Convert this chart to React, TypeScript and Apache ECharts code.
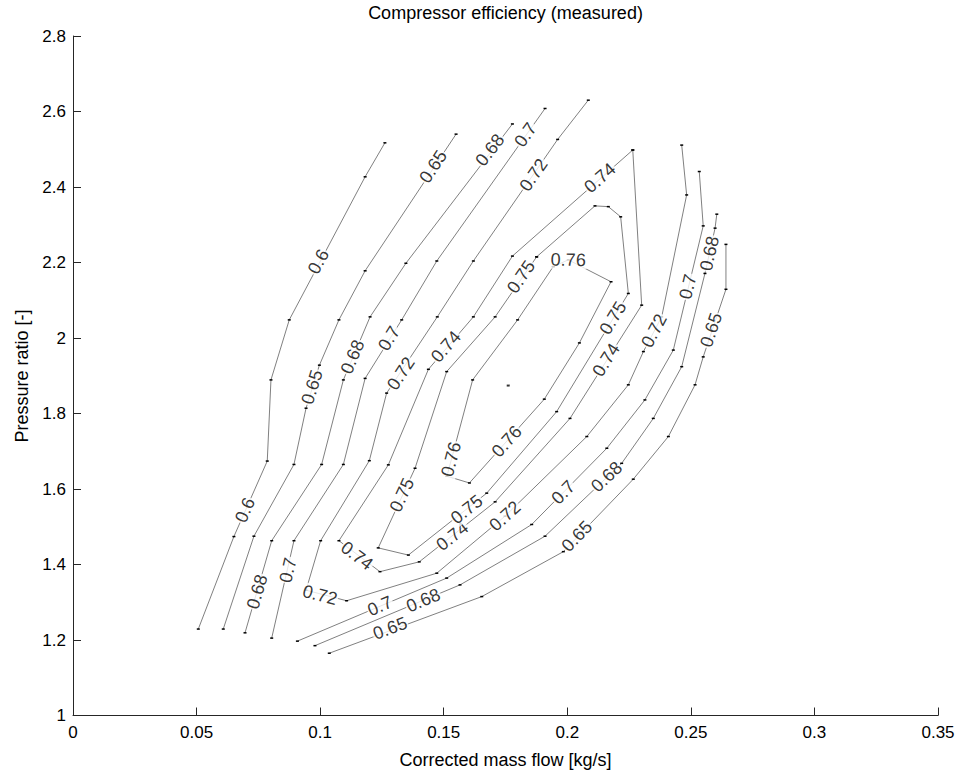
import React, { useEffect, useRef } from "react";
import * as echarts from "echarts";

const FONT = "'Liberation Sans', Arial, Helvetica, sans-serif";

// Axis extents and tick steps
const xMin = 0;
const xMax = 0.35;
const xStep = 0.05;
const yMin = 1;
const yMax = 2.8;
const yStep = 0.2;

// Iso-efficiency lines, points as [corrected mass flow kg/s, pressure ratio]
const eff060: number[][] = [[0.0507, 1.229], [0.0651, 1.474], [0.0786, 1.674], [0.0801, 1.889], [0.0875, 2.048], [0.1182, 2.427], [0.1262, 2.517]];
const eff065Left: number[][] = [[0.0608, 1.229], [0.0732, 1.475], [0.0894, 1.665], [0.0943, 1.814], [0.0997, 1.928], [0.1076, 2.048], [0.1182, 2.178], [0.155, 2.54]];
const eff065Right: number[][] = [[0.1037, 1.165], [0.1654, 1.315], [0.1984, 1.434], [0.2267, 1.626], [0.2409, 1.739], [0.2517, 1.876], [0.255, 1.95], [0.2642, 2.129], [0.2642, 2.248]];
const eff068Left: number[][] = [[0.0696, 1.219], [0.0804, 1.463], [0.1006, 1.665], [0.1094, 1.889], [0.1202, 2.056], [0.1347, 2.198], [0.1778, 2.567]];
const eff068Right: number[][] = [[0.0979, 1.185], [0.1566, 1.346], [0.191, 1.475], [0.222, 1.668], [0.2348, 1.787], [0.2463, 1.924], [0.2557, 2.171], [0.2598, 2.291], [0.2605, 2.328]];
const eff070Left: number[][] = [[0.0804, 1.205], [0.0894, 1.463], [0.1094, 1.665], [0.1182, 1.893], [0.133, 2.048], [0.1472, 2.204], [0.191, 2.608]];
const eff070Right: number[][] = [[0.0908, 1.197], [0.1512, 1.364], [0.1856, 1.506], [0.216, 1.708], [0.2314, 1.836], [0.2429, 1.968], [0.255, 2.297], [0.2534, 2.441]];
const eff072: number[][] = [[0.2085, 2.63], [0.1961, 2.526], [0.162, 2.204], [0.1474, 2.056], [0.1269, 1.854], [0.1199, 1.675], [0.1002, 1.463], [0.0943, 1.332], [0.1107, 1.304], [0.1472, 1.377], [0.1748, 1.528], [0.2079, 1.739], [0.2247, 1.876], [0.2308, 1.964], [0.2382, 2.056], [0.2483, 2.379], [0.2463, 2.511]];
const eff074: number[][] = [[0.2265, 2.498], [0.1778, 2.217], [0.162, 2.056], [0.1438, 1.917], [0.1276, 1.664], [0.1076, 1.463], [0.1242, 1.381], [0.1401, 1.407], [0.1708, 1.566], [0.2011, 1.787], [0.2301, 2.087], [0.2265, 2.498]];
const eff075: number[][] = [[0.1876, 2.215], [0.1708, 2.056], [0.1512, 1.911], [0.1384, 1.655], [0.1235, 1.444], [0.1357, 1.425], [0.1674, 1.589], [0.1957, 1.805], [0.2247, 2.118], [0.2216, 2.321], [0.2166, 2.348], [0.2112, 2.35], [0.1876, 2.215]];
const eff076: number[][] = [[0.1943, 2.189], [0.1799, 2.048], [0.1617, 1.889], [0.1513, 1.634], [0.1604, 1.616], [0.1907, 1.838], [0.2049, 1.987], [0.2177, 2.149], [0.2004, 2.207], [0.1943, 2.189]];

// Highest measured efficiency point
const peakPoint: number[][] = [[0.1761, 1.874]];

// Inline label anchors for each line
const lbl060: number[][] = [[0.0696, 1.544], [0.0993, 2.202]];
const lbl065Left: number[][] = [[0.0967, 1.87], [0.1457, 2.454]];
const lbl065Right: number[][] = [[0.1283, 1.231], [0.2039, 1.475], [0.2582, 2.021]];
const lbl068Left: number[][] = [[0.0745, 1.328], [0.1131, 1.95], [0.1687, 2.498]];
const lbl068Right: number[][] = [[0.1417, 1.305], [0.2159, 1.632], [0.2575, 2.224]];
const lbl070Left: number[][] = [[0.087, 1.385], [0.1279, 1.999], [0.1831, 2.538]];
const lbl070Right: number[][] = [[0.1242, 1.29], [0.1984, 1.591], [0.2488, 2.136]];
const lbl072: number[][] = [[0.0999, 1.319], [0.1327, 1.906], [0.1863, 2.432], [0.1748, 1.528], [0.2351, 2.019]];
const lbl074: number[][] = [[0.1149, 1.423], [0.1509, 1.977], [0.2132, 2.424], [0.1535, 1.475], [0.2157, 1.942]];
const lbl075: number[][] = [[0.1813, 2.162], [0.1331, 1.584], [0.1593, 1.546], [0.2185, 2.053]];
const lbl076: number[][] = [[0.153, 1.679], [0.1755, 1.726], [0.2004, 2.207]];

const contours = [
  { level: "0.6", points: eff060, labels: lbl060 },
  { level: "0.65", points: eff065Left, labels: lbl065Left },
  { level: "0.65", points: eff065Right, labels: lbl065Right },
  { level: "0.68", points: eff068Left, labels: lbl068Left },
  { level: "0.68", points: eff068Right, labels: lbl068Right },
  { level: "0.7", points: eff070Left, labels: lbl070Left },
  { level: "0.7", points: eff070Right, labels: lbl070Right },
  { level: "0.72", points: eff072, labels: lbl072 },
  { level: "0.74", points: eff074, labels: lbl074 },
  { level: "0.75", points: eff075, labels: lbl075 },
  { level: "0.76", points: eff076, labels: lbl076 },
];

// Text angle (degrees, kept upright) of a polyline around the point nearest q
function labelAngle(poly: number[][], q: number[]): number {
  const cum = [0];
  for (let i = 1; i < poly.length; i++) {
    cum.push(cum[i - 1] + Math.hypot(poly[i][0] - poly[i - 1][0], poly[i][1] - poly[i - 1][1]));
  }
  let best = Infinity;
  let bestS = 0;
  for (let i = 0; i < poly.length - 1; i++) {
    const a = poly[i];
    const b = poly[i + 1];
    const dx = b[0] - a[0];
    const dy = b[1] - a[1];
    const len2 = dx * dx + dy * dy || 1;
    let t = ((q[0] - a[0]) * dx + (q[1] - a[1]) * dy) / len2;
    t = Math.max(0, Math.min(1, t));
    const d = Math.hypot(q[0] - (a[0] + t * dx), q[1] - (a[1] + t * dy));
    if (d < best) {
      best = d;
      bestS = cum[i] + t * Math.sqrt(len2);
    }
  }
  const total = cum[cum.length - 1];
  const at = (s: number) => {
    s = Math.max(0, Math.min(total, s));
    for (let i = 0; i < poly.length - 1; i++) {
      if (s <= cum[i + 1] || i === poly.length - 2) {
        const seg = cum[i + 1] - cum[i] || 1;
        const t = (s - cum[i]) / seg;
        return [poly[i][0] + t * (poly[i + 1][0] - poly[i][0]), poly[i][1] + t * (poly[i + 1][1] - poly[i][1])];
      }
    }
    return poly[poly.length - 1];
  };
  const p1 = at(bestS - 14);
  const p2 = at(bestS + 14);
  let ang = (Math.atan2(-(p2[1] - p1[1]), p2[0] - p1[0]) * 180) / Math.PI;
  if (ang > 90) ang -= 180;
  if (ang < -90) ang += 180;
  return ang;
}

export default function App() {
  const ref = useRef<HTMLDivElement>(null);

  useEffect(() => {
    const el = ref.current;
    if (!el) return;
    const chart = echarts.init(el, null, { renderer: "svg" });

    const axisColor = "#262626";
    const tickText = { color: "#000", fontFamily: FONT, fontSize: 17 };
    const nameStyle = { fill: "#000", fontFamily: FONT, fontSize: 18, align: "center", verticalAlign: "middle" };

    const lineSeries = contours.map((c, i) => ({
      id: "iso" + i,
      type: "line",
      data: c.points,
      silent: true,
      showSymbol: true,
      showAllSymbol: true,
      symbol: "rect",
      symbolSize: [3, 1.5],
      itemStyle: { color: "#000" },
      lineStyle: { color: "#555", width: 0.75 },
      z: 2,
    }));

    const peakSeries = {
      id: "peak",
      type: "scatter",
      data: peakPoint,
      silent: true,
      symbol: "rect",
      symbolSize: [3, 2],
      itemStyle: { color: "#000" },
      z: 2,
    };

    chart.setOption({
      animation: false,
      grid: { left: 73, right: 22, top: 36, bottom: 57.5 },
      xAxis: {
        type: "value",
        min: xMin,
        max: xMax,
        interval: xStep,
        axisLine: { show: true, onZero: false, lineStyle: { color: axisColor, width: 1 } },
        axisTick: { show: true, inside: true, length: 8, lineStyle: { color: axisColor } },
        axisLabel: { ...tickText, margin: 8 },
        splitLine: { show: false },
      },
      yAxis: {
        type: "value",
        min: yMin,
        max: yMax,
        interval: yStep,
        axisLine: { show: true, onZero: false, lineStyle: { color: axisColor, width: 1 } },
        axisTick: { show: true, inside: true, length: 8, lineStyle: { color: axisColor } },
        axisLabel: { ...tickText, margin: 7 },
        splitLine: { show: false },
      },
      graphic: [
        { type: "text", x: 505.5, y: 13, style: { ...nameStyle, text: "Compressor efficiency (measured)" } },
        { type: "text", x: 505.5, y: 760, style: { ...nameStyle, text: "Corrected mass flow [kg/s]" } },
        { type: "text", x: 22, y: 376, rotation: Math.PI / 2, style: { ...nameStyle, text: "Pressure ratio [-]" } },
      ],
      series: [...lineSeries, peakSeries],
    });

    // Inline labels follow the direction of their line
    const toPx = (p: number[]) => chart.convertToPixel({ gridIndex: 0 }, p) as number[];
    const labelData: any[] = [];
    contours.forEach((c) => {
      const polyPx = c.points.map(toPx);
      c.labels.forEach((l) => {
        labelData.push({
          name: c.level,
          value: l,
          label: { rotate: labelAngle(polyPx, toPx(l)) },
        });
      });
    });

    chart.setOption({
      series: [
        ...lineSeries,
        peakSeries,
        {
          id: "levels",
          type: "scatter",
          data: labelData,
          silent: true,
          symbolSize: 1,
          itemStyle: { color: "transparent" },
          z: 5,
          label: {
            show: true,
            position: "inside",
            formatter: "{b}",
            color: "#000",
            fontFamily: FONT,
            fontSize: 18,
            lineHeight: 18,
            backgroundColor: "#fff",
            padding: [0, 1],
          },
          labelLayout: { hideOverlap: false },
        },
      ],
    });

    return () => chart.dispose();
  }, []);

  return <div ref={ref} style={{ position: "absolute", left: 0, top: 0, width: 960, height: 773 }} />;
}
